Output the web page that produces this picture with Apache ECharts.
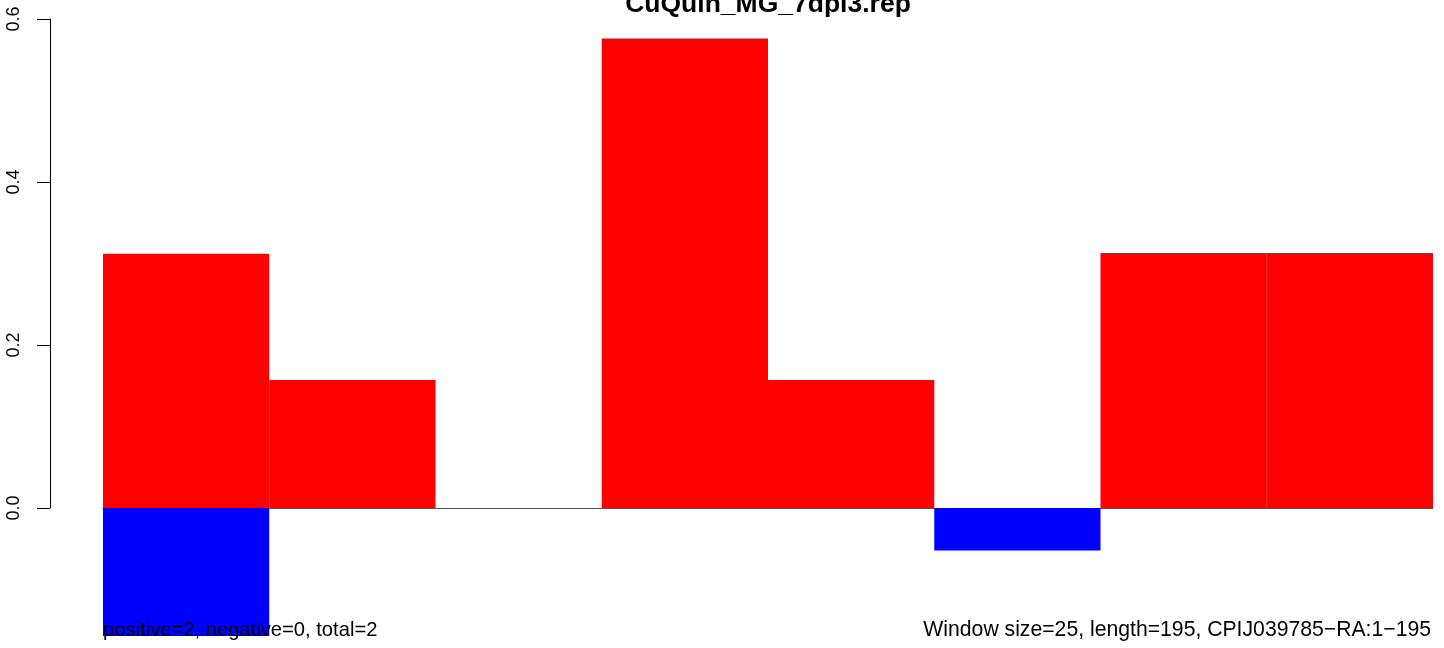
<!DOCTYPE html>
<html>
<head>
<meta charset="utf-8">
<script src="https://cdn.jsdelivr.net/npm/echarts@6/dist/echarts.min.js"></script>
<style>
html,body{margin:0;padding:0;background:#fff;}
#main{width:1444px;height:648px;}
</style>
</head>
<body>
<div id="main"></div>
<script>
var titleText = "CuQuin_MG_7dpi3.rep";
var leftNote = "positive=2, negative=0, total=2";
var rightNote = "Window size=25, length=195, CPIJ039785\u2212RA:1\u2212195";
var windows = ["1", "2", "3", "4", "5", "6", "7", "8"];
var positiveValues = [0.312, 0.157, 0, 0.576, 0.157, 0, 0.313, 0.313];
var negativeValues = [-0.157, 0, 0, 0, 0, -0.052, 0, 0];
var yTicks = [0, 0.2, 0.4, 0.6];

var chart = echarts.init(document.getElementById('main'), null, {renderer: 'canvas'});
var font = "'Liberation Sans', Arial, sans-serif";
chart.setOption({
  animation: false,
  backgroundColor: '#ffffff',
  title: [
    {text: leftNote, left: 103, top: 620, padding: 0,
     textStyle: {fontFamily: font, fontWeight: 'normal', fontSize: 20.2, color: '#000'}},
    {text: rightNote, right: 13, top: 620, padding: 0,
     textStyle: {fontFamily: font, fontWeight: 'normal', fontSize: 21.2, color: '#000'}}
  ],
  graphic: [
    {type: 'text', x: 768, y: 18, silent: true,
     style: {text: titleText, align: 'center', verticalAlign: 'bottom',
       font: "bold 26.5px 'Liberation Sans', Arial, sans-serif", fill: '#000'}}
  ],
  grid: {left: 103, right: 11, top: 19, bottom: 140, containLabel: false},
  xAxis: {
    type: 'category', data: windows,
    axisLine: {show: true, onZero: true, lineStyle: {color: '#555555', width: 1}},
    axisTick: {show: false}, axisLabel: {show: false}, splitLine: {show: false}
  },
  yAxis: {
    type: 'value', min: yTicks[0], max: yTicks[yTicks.length - 1], interval: 0.2,
    offset: 53,
    axisLine: {show: true, lineStyle: {color: '#000', width: 1}},
    axisTick: {show: true, length: 13, lineStyle: {color: '#000', width: 1}},
    splitLine: {show: false},
    axisLabel: {show: true, rotate: 90, margin: 27, fontFamily: font, fontSize: 18, color: '#000',
      formatter: function (v) { return v.toFixed(1); }}
  },
  series: [
    {type: 'bar', stack: 'w', data: positiveValues, barWidth: '100%', clip: false,
     itemStyle: {color: '#ff0000'}, z: 3},
    {type: 'bar', stack: 'w', data: negativeValues, barWidth: '100%', clip: false,
     itemStyle: {color: '#0000ff'}, z: 2}
  ]
});
</script>
</body>
</html>
